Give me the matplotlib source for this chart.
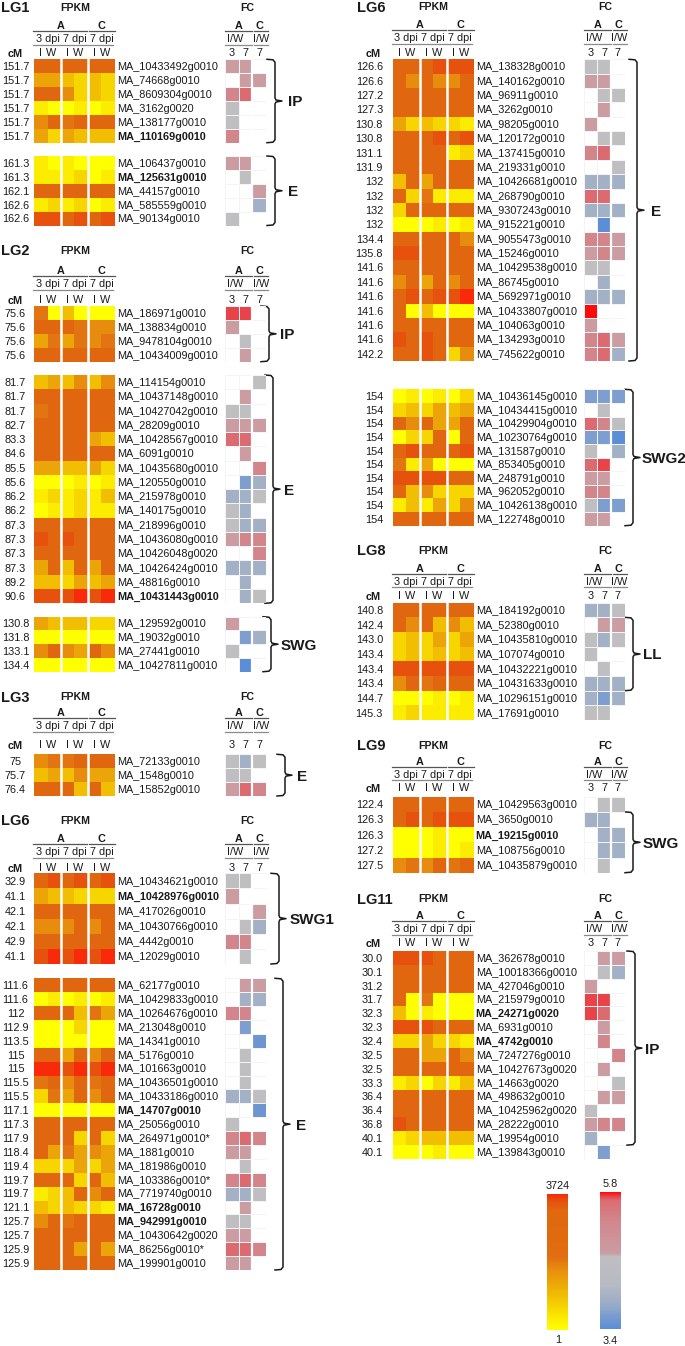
import numpy as np
import matplotlib.pyplot as plt
from matplotlib.colors import LinearSegmentedColormap

plt.rcParams['font.family'] = ['Liberation Sans', 'DejaVu Sans']

nan = np.nan
W, H = 685, 1346

# ---------------- data (FPKM colour level 0-9, FC level -3..5, nan = not shown) ----------------
lg1_ip_cm = ['151.7'] * 6
lg1_ip_gene = ['MA_10433492g0010', 'MA_74668g0010', 'MA_8609304g0010', 'MA_3162g0020',
               'MA_138177g0010', 'MA_110169g0010']
lg1_ip_fpkm = [[7, 7, 7, 7, 7, 7], [4, 4, 3, 2, 3, 2], [7, 7, 5, 2, 3, 2], [1, 0, 0, 1, 0, 1],
               [5, 7, 6, 7, 7, 7], [4, 2, 4, 3, 3, 3]]
lg1_ip_fc = [[1, 1, nan], [nan, 1, 1], [2, 3, nan], [0, nan, nan], [0, nan, nan], [2, nan, nan]]

lg1_e_cm = ['161.3', '161.3', '162.1', '162.6', '162.6']
lg1_e_gene = ['MA_106437g0010', 'MA_125631g0010', 'MA_44157g0010', 'MA_585559g0010', 'MA_90134g0010']
lg1_e_fpkm = [[1, 0, 1, 0, 0, 0], [1, 1, 1, 2, 0, 1], [7, 7, 7, 7, 7, 7], [1, 2, 1, 2, 0, 1],
              [8, 8, 7, 8, 7, 8]]
lg1_e_fc = [[1, 1, nan], [nan, 0, nan], [nan, nan, 1], [nan, nan, -1], [0, nan, nan]]

lg2_ip_cm = ['75.6'] * 4
lg2_ip_gene = ['MA_186971g0010', 'MA_138834g0010', 'MA_9478104g0010', 'MA_10434009g0010']
lg2_ip_fpkm = [[6, 0, 3, 0, 0, 0], [7, 7, 7, 6, 5, 5], [4, 6, 4, 6, 5, 6], [7, 7, 7, 7, 7, 7]]
lg2_ip_fc = [[4, 4, nan], [1, nan, nan], [nan, 0, nan], [nan, 1, nan]]

lg2_e_cm = ['81.7', '81.7', '81.7', '82.7', '83.3', '84.6', '85.5', '85.6', '86.2', '86.2',
            '87.3', '87.3', '87.3', '87.3', '89.2', '90.6']
lg2_e_gene = ['MA_114154g0010', 'MA_10437148g0010', 'MA_10427042g0010', 'MA_28209g0010',
              'MA_10428567g0010', 'MA_6091g0010', 'MA_10435680g0010', 'MA_120550g0010',
              'MA_215978g0010', 'MA_140175g0010', 'MA_218996g0010', 'MA_10436080g0010',
              'MA_10426048g0020', 'MA_10426424g0010', 'MA_48816g0010', 'MA_10431443g0010']
lg2_e_fpkm = [[3, 4, 3, 5, 3, 5], [7, 7, 7, 7, 7, 7], [6, 7, 7, 7, 7, 7], [7, 7, 7, 7, 7, 7],
              [7, 7, 7, 7, 4, 3], [7, 7, 7, 7, 7, 7], [4, 4, 3, 3, 4, 2], [0, 0, 0, 1, 0, 1],
              [1, 2, 1, 2, 1, 3], [0, 1, 1, 2, 1, 1], [7, 7, 7, 7, 7, 7], [8, 7, 8, 7, 7, 7],
              [7, 7, 7, 7, 7, 7], [4, 7, 3, 7, 4, 7], [3, 3, 2, 4, 3, 4], [8, 8, 8, 9, 8, 9]]
lg2_e_fc = [[nan, nan, 0], [nan, 1, nan], [0, 0, nan], [1, 1, 1], [3, 3, nan], [nan, 1, nan],
            [nan, nan, 2], [nan, -2, -1], [-1, -1, 0], [0, -1, nan], [0, -1, -1], [1, 2, 2],
            [nan, nan, 2], [-1, -1, -1], [nan, -1, nan], [nan, -1, 0]]

lg2_swg_cm = ['130.8', '131.8', '133.1', '134.4']
lg2_swg_gene = ['MA_129592g0010', 'MA_19032g0010', 'MA_27441g0010', 'MA_10427811g0010']
lg2_swg_fpkm = [[4, 3, 3, 3, 2, 2], [0, 0, 0, 0, 0, 0], [5, 7, 5, 4, 7, 5], [0, 0, 0, 0, 0, 0]]
lg2_swg_fc = [[1, nan, nan], [nan, -2, -1], [0, nan, nan], [nan, -3, nan]]

lg3_e_cm = ['75', '75.7', '76.4']
lg3_e_gene = ['MA_72133g0010', 'MA_1548g0010', 'MA_15852g0010']
lg3_e_fpkm = [[5, 6, 6, 7, 7, 7], [3, 4, 3, 5, 4, 4], [7, 7, 7, 3, 7, 3]]
lg3_e_fc = [[0, -1, 0], [0, 0, nan], [1, 3, 2]]

lg6a_swg1_cm = ['32.9', '41.1', '42.1', '42.1', '42.9', '41.1']
lg6a_swg1_gene = ['MA_10434621g0010', 'MA_10428976g0010', 'MA_417026g0010', 'MA_10430766g0010',
                  'MA_4442g0010', 'MA_12029g0010']
lg6a_swg1_fpkm = [[7, 8, 7, 8, 7, 8], [4, 3, 3, 2, 2, 2], [7, 7, 7, 7, 7, 7], [5, 5, 5, 7, 5, 7],
                  [7, 7, 7, 7, 7, 7], [8, 9, 8, 9, 8, 9]]
lg6a_swg1_fc = [[0, 0, nan], [1, nan, nan], [nan, nan, 1], [nan, 0, -1], [2, 2, nan], [nan, 0, nan]]

lg6a_e_cm = ['111.6', '111.6', '112', '112.9', '113.5', '115', '115', '115.5', '115.5', '117.1',
             '117.3', '117.9', '118.4', '119.4', '119.7', '119.7', '121.1', '125.7', '125.7',
             '125.9', '125.9']
lg6a_e_gene = ['MA_62177g0010', 'MA_10429833g0010', 'MA_10264676g0010', 'MA_213048g0010',
               'MA_14341g0010', 'MA_5176g0010', 'MA_101663g0010', 'MA_10436501g0010',
               'MA_10433186g0010', 'MA_14707g0010', 'MA_25056g0010', 'MA_264971g0010*',
               'MA_1881g0010', 'MA_181986g0010', 'MA_103386g0010*', 'MA_7719740g0010',
               'MA_16728g0010', 'MA_942991g0010', 'MA_10430642g0020', 'MA_86256g0010*',
               'MA_199901g0010']
lg6a_e_fpkm = [[7, 7, 7, 7, 7, 7], [0, 1, 0, 1, 0, 1], [7, 7, 7, 3, 6, 4], [0, 0, 0, 2, 0, 0],
               [0, 0, 0, 0, 0, 0], [7, 7, 4, 7, 5, 7], [9, 9, 8, 9, 8, 9], [6, 7, 5, 7, 6, 7],
               [2, 6, 4, 7, 5, 7], [0, 0, 0, 0, 0, 0], [7, 7, 7, 7, 7, 7], [7, 7, 7, 2, 7, 2],
               [7, 4, 6, 4, 5, 4], [2, 2, 2, 4, 2, 4], [7, 7, 7, 2, 7, 3], [1, 2, 3, 7, 5, 7],
               [3, 2, 3, 2, 2, 1], [5, 7, 6, 7, 7, 7], [7, 7, 7, 7, 7, 7], [7, 7, 7, 4, 7, 4],
               [7, 7, 7, 7, 7, 7]]
lg6a_e_fc = [[nan, 1, 1], [nan, -1, -1], [2, 2, nan], [nan, -2, nan], [nan, nan, -2.5],
             [nan, 0, nan], [nan, 0, nan], [nan, 0, nan], [-1, -1, 0], [nan, nan, -2.5],
             [0, nan, nan], [2, 3, 2], [1, 1, nan], [nan, 0, nan], [2, 3, 2], [-1, -1, 0],
             [nan, 1, nan], [0, 0, nan], [1, 1, nan], [3, 3, 2], [1, 1, nan]]

lg6b_e_cm = ['126.6', '126.6', '127.2', '127.3', '130.8', '130.8', '131.1', '131.9', '132',
             '132', '132', '132', '134.4', '135.8', '141.6', '141.6', '141.6', '141.6', '141.6',
             '141.6', '142.2']
lg6b_e_gene = ['MA_138328g0010', 'MA_140162g0010', 'MA_96911g0010', 'MA_3262g0010',
               'MA_98205g0010', 'MA_120172g0010', 'MA_137415g0010', 'MA_219331g0010',
               'MA_10426681g0010', 'MA_268790g0010', 'MA_9307243g0010', 'MA_915221g0010',
               'MA_9055473g0010', 'MA_15246g0010', 'MA_10429538g0010', 'MA_86745g0010',
               'MA_5692971g0010', 'MA_10433807g0010', 'MA_104063g0010', 'MA_134293g0010',
               'MA_745622g0010']
lg6b_e_fpkm = [[7, 7, 7, 8, 8, 8], [7, 5, 7, 5, 5, 7], [7, 7, 7, 7, 7, 7], [7, 7, 7, 7, 7, 7],
               [4, 2, 3, 2, 2, 1], [7, 7, 7, 8, 7, 8], [7, 7, 7, 7, 1, 2], [7, 7, 7, 7, 7, 7],
               [3, 7, 4, 7, 7, 7], [7, 2, 6, 1, 1, 1], [2, 7, 7, 7, 7, 7], [0, 0, 0, 1, 0, 1],
               [7, 7, 7, 7, 7, 5], [8, 8, 7, 7, 7, 7], [7, 7, 7, 7, 7, 7], [5, 7, 4, 7, 5, 7],
               [7, 8, 7, 8, 8, 9], [7, 0, 3, 0, 0, 0], [7, 7, 7, 7, 7, 7], [8, 7, 8, 7, 7, 7],
               [7, 7, 8, 7, 2, 5]]
lg6b_e_fc = [[0, 0, nan], [1, 1, nan], [nan, 0, 0], [nan, 1, nan], [1, nan, nan], [nan, 0, 0],
             [2, 3, nan], [nan, nan, 0], [-1, -1, -1], [3, 3, nan], [-1, -1, -1], [nan, -3, nan],
             [2, 2, 1], [1, 2, 1], [0, 0, nan], [nan, -1, nan], [-1, -1, -1], [5, nan, nan],
             [1, nan, nan], [2, 3, 1], [2, 3, -1]]

lg6b_swg2_cm = ['154'] * 10
lg6b_swg2_gene = ['MA_10436145g0010', 'MA_10434415g0010', 'MA_10429904g0010', 'MA_10230764g0010',
                  'MA_131587g0010', 'MA_853405g0010', 'MA_248791g0010', 'MA_962052g0010',
                  'MA_10426138g0010', 'MA_122748g0010']
lg6b_swg2_fpkm = [[0, 1, 0, 1, 0, 2], [2, 3, 2, 4, 3, 4], [7, 5, 7, 4, 4, 7], [0, 2, 2, 7, 0, 7],
                  [7, 8, 7, 7, 7, 8], [6, 1, 4, 0, 0, 0], [8, 8, 8, 8, 7, 7], [7, 3, 5, 2, 2, 2],
                  [1, 3, 1, 4, 2, 5], [7, 7, 7, 7, 7, 7]]
lg6b_swg2_fc = [[-2, -2, -2], [nan, 0, nan], [3, 2, 0], [-2, -2, -3], [0, nan, -1], [3, 4, nan],
                [1, 1, nan], [2, 2, nan], [0, -2, -2], [1, 1, nan]]

lg8_cm = ['140.8', '142.4', '143.0', '143.4', '143.4', '143.4', '144.7', '145.3']
lg8_gene = ['MA_184192g0010', 'MA_52380g0010', 'MA_10435810g0010', 'MA_107074g0010',
            'MA_10432221g0010', 'MA_10431633g0010', 'MA_10296151g0010', 'MA_17691g0010']
lg8_fpkm = [[7, 7, 7, 7, 7, 7], [7, 5, 7, 3, 5, 3], [2, 3, 2, 4, 2, 4], [2, 3, 2, 3, 2, 3],
            [8, 8, 8, 8, 8, 8], [5, 7, 6, 7, 7, 7], [0, 0, 0, 1, 0, 1], [1, 2, 1, 1, 1, 1]]
lg8_fc = [[-1, -1, 0], [nan, 1, 1], [0, -1, 0], [0, nan, nan], [nan, 0, nan], [-1, -1, -1],
          [-1, -2, -1], [0, 0, nan]]

lg9_cm = ['122.4', '126.3', '126.3', '127.2', '127.5']
lg9_gene = ['MA_10429563g0010', 'MA_3650g0010', 'MA_19215g0010', 'MA_108756g0010',
            'MA_10435879g0010']
lg9_fpkm = [[7, 7, 7, 7, 7, 7], [7, 8, 7, 8, 8, 8], [0, 0, 0, 1, 0, 0], [0, 0, 0, 1, 0, 1],
            [5, 6, 5, 7, 6, 7]]
lg9_fc = [[nan, 0, 0], [-1, -1, nan], [nan, -1, -1], [nan, -1, -1], [nan, 0, nan]]

lg11_cm = ['30.0', '30.1', '31.2', '31.7', '32.3', '32.3', '32.4', '32.5', '32.5', '33.3',
           '36.4', '36.4', '36.8', '40.1', '40.1']
lg11_gene = ['MA_362678g0010', 'MA_10018366g0010', 'MA_427046g0010', 'MA_215979g0010',
             'MA_24271g0020', 'MA_6931g0010', 'MA_4742g0010', 'MA_7247276g0010',
             'MA_10427673g0020', 'MA_14663g0020', 'MA_498632g0010', 'MA_10425962g0020',
             'MA_28222g0010', 'MA_19954g0010', 'MA_139843g0010']
lg11_fpkm = [[8, 8, 8, 7, 7, 7], [7, 7, 7, 7, 7, 7], [7, 7, 7, 7, 7, 7], [7, 0, 6, 0, 0, 0],
             [3, 0, 1, 0, 0, 0], [8, 8, 8, 7, 7, 7], [2, 2, 4, 2, 2, 1], [7, 7, 4, 4, 7, 5],
             [7, 7, 7, 7, 7, 7], [1, 2, 0, 2, 1, 3], [7, 7, 7, 7, 7, 7], [7, 7, 7, 7, 7, 7],
             [8, 7, 7, 7, 7, 7], [1, 2, 3, 3, 3, 3], [0, 0, 0, 1, 0, 0]]
lg11_fc = [[nan, 1, 1], [nan, 0, -1], [1, nan, nan], [4, 4, nan], [4, 3, nan], [nan, 1, nan],
           [nan, 2, nan], [nan, nan, 2], [nan, 1, nan], [nan, nan, 0], [nan, 1, 1], [0, nan, nan],
           [1, 2, 2], [-1, nan, nan], [nan, -2, nan]]

bold_genes = ['MA_110169g0010', 'MA_125631g0010', 'MA_10431443g0010', 'MA_10428976g0010',
              'MA_14707g0010', 'MA_16728g0010', 'MA_942991g0010', 'MA_19215g0010',
              'MA_24271g0020', 'MA_4742g0010']

fpkm_range = ['1', '3724']
fc_range = ['3.4', '5.8']

# ---------------- colours ----------------
fpkm_cmap = LinearSegmentedColormap.from_list('fpkm', [
    '#FFFF00', '#FCEC00', '#F7D500', '#F2BE02', '#ECA508',
    '#E88C0E', '#E37412', '#E0680F', '#E6520E', '#F82A0A'])
fc_cmap = LinearSegmentedColormap.from_list('fc', [
    '#5B8ED6', '#7D9ECE', '#A3B1C6', '#BFBFC2', '#CB9DA3',
    '#D2868C', '#DC6C72', '#E8454C', '#FF0A0A'])

fig = plt.figure(figsize=(W / 100, H / 100), dpi=100)
ov = fig.add_axes([0, 0, 1, 1])
ov.set_xlim(0, W)
ov.set_ylim(H, 0)
ov.axis('off')


def px_axes(x, y, w, h):
    ax = fig.add_axes([x / W, 1 - (y + h) / H, w / W, h / H])
    ax.axis('off')
    return ax


def label(x, y, s, fs=7.8, **kw):
    # y is the visual centre of capitals
    ov.text(x, y + 0.358 * fs * 100 / 72, s, fontsize=fs, va='baseline', color='#1a1a1a', **kw)


FW, FCW = 81, 41  # heatmap widths (px)
CW = FW / 6


def header(x0, title, title_y, a_y, iw_y, lg_x, cm_x):
    xf = x0 + 191
    label(lg_x, title_y, title, fs=10.5, weight='bold')
    label(x0 + 41, title_y, 'FPKM', fs=7.6, weight='bold', ha='center')
    label(xf + 22, title_y, 'FC', fs=7.6, weight='bold', ha='center')
    ln = dict(color='#555555', lw=0.9)
    ln2 = dict(color='#8a8a8a', lw=0.9)
    label(x0 + 2 * CW, a_y, 'A', weight='bold', ha='center')
    ov.plot([x0 - 1, x0 + 4 * CW - 1], [a_y + 6, a_y + 6], **ln)
    label(x0 + 5 * CW, a_y, 'C', weight='bold', ha='center')
    ov.plot([x0 + 4 * CW + 1, x0 + 6 * CW], [a_y + 6, a_y + 6], **ln)
    d_y = a_y + 13
    for k, lab in enumerate(['3 dpi', '7 dpi', '7 dpi']):
        label(x0 + (2 * k + 1) * CW, d_y, lab, ha='center')
        ov.plot([x0 + 2 * k * CW - 1, x0 + (2 * k + 2) * CW - 1.5], [d_y + 6.5, d_y + 6.5], **ln2)
        label(x0 + (2 * k + 0.5) * CW, iw_y, 'I', ha='center')
        label(x0 + (2 * k + 1.5) * CW - 3, iw_y, 'W', ha='center')
    label(cm_x, iw_y + 1.5, 'cM', weight='bold', ha='center')
    fw = FCW / 3
    label(xf + fw, a_y, 'A', weight='bold', ha='center')
    ov.plot([xf, xf + 2 * fw], [a_y + 6, a_y + 6], **ln)
    label(xf + 2.5 * fw + 0.5, a_y, 'C', weight='bold', ha='center')
    ov.plot([xf + 2 * fw + 1.5, xf + 3 * fw + 2], [a_y + 6, a_y + 6], **ln)
    label(xf + 10, d_y, 'I/W', ha='center')
    ov.plot([xf, xf + 2 * fw], [d_y + 6.5, d_y + 6.5], **ln2)
    label(xf + 2.5 * fw + 1.5, d_y, 'I/W', ha='center')
    ov.plot([xf + 2 * fw + 1.5, xf + 3 * fw + 2], [d_y + 6.5, d_y + 6.5], **ln2)
    for k, lab in enumerate(['3', '7', '7']):
        label(xf + (k + 0.5) * fw, iw_y, lab, ha='center')


def group(x0, top, bottom, cm, genes, fpkm, fc, cm_x, cm_ha, brace_rows, name, bx, lx):
    n = len(genes)
    rh = (bottom - top) / n
    ax = px_axes(x0, top, FW, bottom - top)
    ax.pcolormesh(np.array(fpkm, float), cmap=fpkm_cmap, vmin=0, vmax=9)
    ax.set_xlim(0, 6)
    ax.set_ylim(n, 0)
    for xv in (2, 4):
        ax.axvline(xv, color='white', lw=1.8)
    axf = px_axes(x0 + 191, top, FCW, bottom - top)
    axf.pcolormesh(np.ma.masked_invalid(np.array(fc, float)), cmap=fc_cmap, vmin=-3, vmax=5,
                   edgecolors='#f4f4f4', linewidth=0.4)
    axf.set_xlim(0, 3)
    axf.set_ylim(n, 0)
    axf.axvline(2, color='white', lw=1.6)
    gx = x0 + FW + 2
    for i in range(n):
        y = top + (i + 0.5) * rh
        label(cm_x, y, cm[i], ha=cm_ha)
        plain = genes[i].rstrip('*')
        label(gx, y, genes[i], weight='bold' if plain in bold_genes else 'normal')
    # curly bracket
    r0, r1 = brace_rows if brace_rows else (0, n - 1)
    y0, y1 = top + r0 * rh, top + (r1 + 1) * rh
    ym = (y0 + y1) / 2
    xs = [bx - 8, bx - 2, bx, bx, bx + 1, bx + 7, bx + 1, bx, bx, bx - 2, bx - 8]
    ys = [y0, y0 + 0.5, y0 + 3, ym - 3, ym - 1, ym, ym + 1, ym + 3, y1 - 3, y1 - 0.5, y1]
    ov.plot(xs, ys, color='#1a1a1a', lw=1.1)
    label(lx, ym, name, fs=11, weight='bold')


# ---------------- left column ----------------
XL, XR = 34, 392.7
header(XL, 'LG1', 7, 25, 51.7, 1, 15.5)
group(XL, 59.3, 142.7, lg1_ip_cm, lg1_ip_gene, lg1_ip_fpkm, lg1_ip_fc, 15.5, 'center', None, 'IP', 275, 288)
group(XL, 156, 225.5, lg1_e_cm, lg1_e_gene, lg1_e_fpkm, lg1_e_fc, 15.5, 'center', None, 'E', 275, 288)

header(XL, 'LG2', 250, 270, 299, 1, 15.5)
group(XL, 306, 361.7, lg2_ip_cm, lg2_ip_gene, lg2_ip_fpkm, lg2_ip_fc, 15.5, 'center', None, 'IP', 269, 280)
group(XL, 375, 603.3, lg2_e_cm, lg2_e_gene, lg2_e_fpkm, lg2_e_fc, 15.5, 'center', None, 'E', 273, 284)
group(XL, 616.7, 671.7, lg2_swg_cm, lg2_swg_gene, lg2_swg_fpkm, lg2_swg_fc, 15.5, 'center', None, 'SWG', 271, 281)

header(XL, 'LG3', 696.7, 712, 744, 1, 15.5)
group(XL, 754.3, 796, lg3_e_cm, lg3_e_gene, lg3_e_fpkm, lg3_e_fc, 15.5, 'center', None, 'E', 285, 297)

header(XL, 'LG6', 820, 838, 866.7, 1, 15.5)
group(XL, 873.3, 964, lg6a_swg1_cm, lg6a_swg1_gene, lg6a_swg1_fpkm, lg6a_swg1_fc, 15.5, 'center', None, 'SWG1', 279, 290)
group(XL, 978.3, 1270, lg6a_e_cm, lg6a_e_gene, lg6a_e_fpkm, lg6a_e_fc, 15.5, 'center', None, 'E', 283, 296)

# ---------------- right column ----------------
header(XR, 'LG6', 6.7, 24, 51.7, 357, 373)
group(XR, 59.3, 361, lg6b_e_cm, lg6b_e_gene, lg6b_e_fpkm, lg6b_e_fc, 383, 'right', None, 'E', 637, 651)
group(XR, 389.3, 525.7, lg6b_swg2_cm, lg6b_swg2_gene, lg6b_swg2_fpkm, lg6b_swg2_fc, 383, 'right', None, 'SWG2', 633, 642)

header(XR, 'LG8', 550, 567.7, 595, 357, 373)
group(XR, 602.7, 720, lg8_cm, lg8_gene, lg8_fpkm, lg8_fc, 383, 'right', (1, 5), 'LL', 633, 643)

header(XR, 'LG9', 745, 760.7, 786.7, 357, 373)
group(XR, 796.7, 872.7, lg9_cm, lg9_gene, lg9_fpkm, lg9_fc, 383, 'right', (1, 4), 'SWG', 633, 643)

header(XR, 'LG11', 898.3, 915, 942, 357, 373)
group(XR, 951, 1159, lg11_cm, lg11_gene, lg11_fpkm, lg11_fc, 383, 'right', (0, 13), 'IP', 635, 645)

# ---------------- colour keys ----------------
f = np.linspace(0, 1, 256)
cb1 = px_axes(547.3, 1194.3, 21, 135.7)
cb1.imshow(np.interp(f, [0, .05, .12, .45, .55, .75, 1], [9, 8, 7, 6.5, 5, 3, 0])[:, None],
           cmap=fpkm_cmap, vmin=0, vmax=9, aspect='auto')
cb2 = px_axes(600, 1192.3, 21, 136.4)
cb2.imshow(np.interp(f, [0, .06, .2, .45, .47, .68, .85, 1], [5, 3, 2, 1, 0, -0.3, -1.5, -3])[:, None],
           cmap=fc_cmap, vmin=-3, vmax=5, aspect='auto')
label(557.8, 1185, fpkm_range[1], ha='center')
label(557.8, 1339.5, fpkm_range[0], ha='center')
label(610.5, 1183.3, fc_range[1], ha='center')
label(610.5, 1340, fc_range[0], ha='center')

fig.savefig('out.png', dpi=100)
